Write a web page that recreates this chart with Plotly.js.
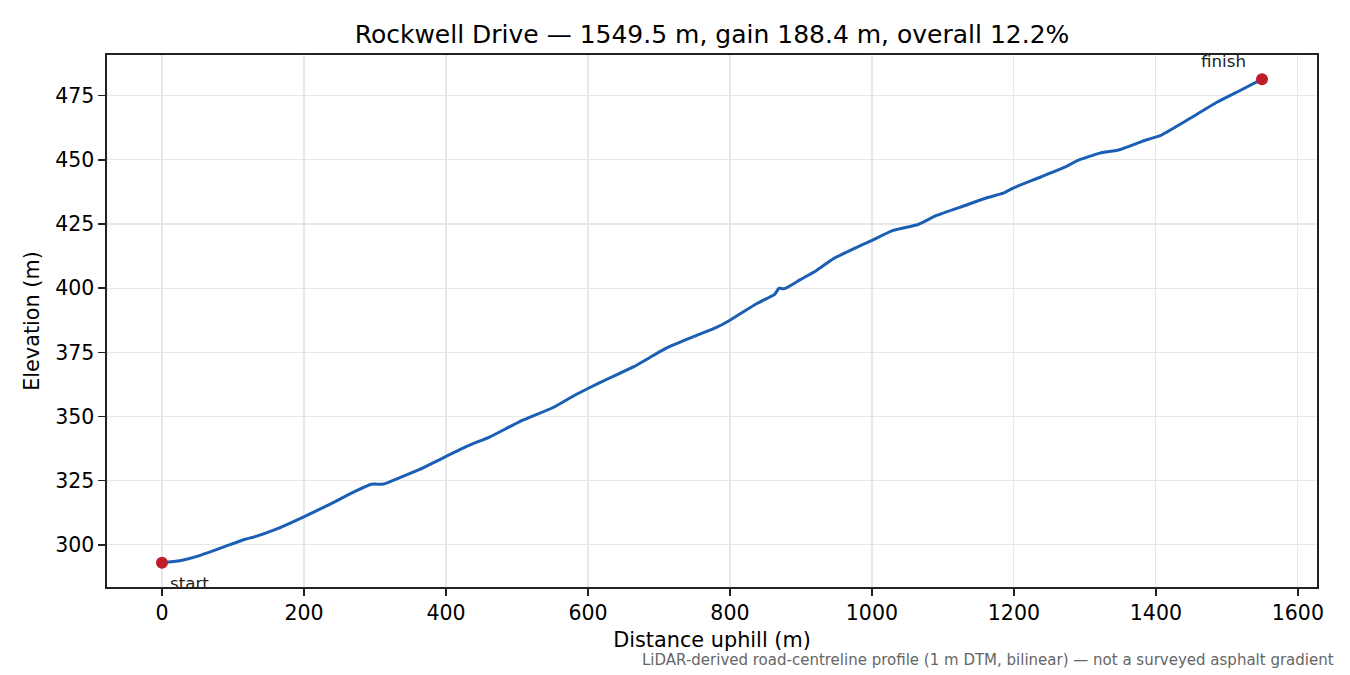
<!DOCTYPE html>
<html>
<head>
<meta charset="utf-8">
<script src="https://cdn.plot.ly/plotly-3.0.1.min.js"></script>
<style>
  html, body { margin: 0; padding: 0; background: #fff; }
  #chart { width: 1350px; height: 675px; }
</style>
</head>
<body>
<div id="chart"></div>
<script>
// profile: distance uphill (m) and elevation (m)
const distance = [0, 25, 49, 86, 117, 129, 161, 199, 237, 274, 295, 312, 335, 363, 399, 434,
  462, 504, 551, 579, 600, 629, 664, 711, 748, 781, 800, 838, 863, 869, 877, 899, 922, 946,
  1000, 1030, 1065, 1091, 1129, 1162, 1185, 1199, 1237, 1274, 1288, 1321, 1349, 1387, 1406,
  1443, 1486, 1518, 1549.5];
const elevation = [293.0, 293.8, 295.5, 299.1, 302.2, 303.0, 306.1, 310.8, 315.9, 321.1, 323.6,
  323.7, 326.2, 329.4, 334.3, 338.9, 342.1, 348.0, 353.5, 357.9, 360.9, 364.8, 369.3, 376.7,
  381.0, 384.7, 387.5, 394.0, 397.6, 399.9, 399.8, 403.3, 406.9, 411.5, 418.6, 422.5, 424.8,
  428.3, 432.0, 435.2, 437.0, 439.0, 443.2, 447.4, 449.5, 452.6, 453.9, 457.8, 459.4, 465.3,
  472.4, 476.9, 481.4];
const endLabels = ['start', 'finish'];
const xTicks = [0, 200, 400, 600, 800, 1000, 1200, 1400, 1600];
const yTicks = [300, 325, 350, 375, 400, 425, 450, 475];

const FONT = 'DejaVu Sans, sans-serif';
const n = distance.length;
const ends = { x: [distance[0], distance[n - 1]], y: [elevation[0], elevation[n - 1]] };

// matplotlib-like 5% padding
const xPad = (distance[n - 1] - distance[0]) * 0.05;
const yPad = (ends.y[1] - ends.y[0]) * 0.05;

const traces = [
  {
    x: distance, y: elevation, mode: 'lines', type: 'scatter',
    line: { color: '#1a5fb4', width: 3, shape: 'spline', smoothing: 0.5 }, hoverinfo: 'skip'
  },
  {
    x: ends.x, y: ends.y, mode: 'markers', type: 'scatter',
    marker: { color: '#c01c28', size: 12 }, cliponaxis: false, hoverinfo: 'skip'
  }
];

const axisCommon = {
  showline: true, mirror: true, linecolor: '#222', linewidth: 1.6,
  ticks: 'outside', ticklen: 7, tickwidth: 1.6, tickcolor: '#222',
  showgrid: true, gridcolor: '#e8e8e8', gridwidth: 1.2,
  zeroline: false,
  tickfont: { family: FONT, size: 20.5, color: '#000' }
};

const layout = {
  width: 1350, height: 675,
  paper_bgcolor: '#fff', plot_bgcolor: '#fff',
  margin: { l: 107, r: 33, t: 55, b: 88 },
  showlegend: false,
  title: {
    text: 'Rockwell Drive — 1549.5 m, gain 188.4 m, overall 12.2%',
    font: { family: FONT, size: 25, color: '#000' },
    x: 0.5, xref: 'paper', y: 0.95, yanchor: 'middle'
  },
  xaxis: Object.assign({}, axisCommon, {
    range: [distance[0] - xPad, distance[n - 1] + xPad],
    tickvals: xTicks, ticktext: xTicks.map(String),
    title: { text: 'Distance uphill (m)', font: { family: FONT, size: 20.8, color: '#000' }, standoff: 8 }
  }),
  yaxis: Object.assign({}, axisCommon, {
    range: [ends.y[0] - yPad, ends.y[1] + yPad],
    tickvals: yTicks, ticktext: yTicks.map(String),
    title: { text: 'Elevation (m)', font: { family: FONT, size: 20.8, color: '#000' }, standoff: 10 }
  }),
  annotations: [
    {
      x: ends.x[0], y: ends.y[0], xref: 'x', yref: 'y', text: endLabels[0], showarrow: false,
      xanchor: 'left', yanchor: 'middle', xshift: 6, yshift: -20,
      font: { family: FONT, size: 16.7, color: '#222' }
    },
    {
      x: ends.x[1], y: ends.y[1], xref: 'x', yref: 'y', text: endLabels[1], showarrow: false,
      xanchor: 'center', yanchor: 'middle', xshift: -39, yshift: 18,
      font: { family: FONT, size: 16.7, color: '#222' }
    },
    {
      x: 0, y: 0, xref: 'paper', yref: 'paper', showarrow: false,
      xanchor: 'right', yanchor: 'middle',
      text: 'LiDAR-derived road-centreline profile (1 m DTM, bilinear) — not a surveyed asphalt gradient',
      font: { family: FONT, size: 15, color: '#666' }
    }
  ]
};
// paper coords for the footnote are relative to the plot area, convert from pixels
(function () {
  const L = 107, R = 1350 - 33, T = 55, B = 675 - 88;
  const fn = layout.annotations[2];
  fn.x = (1336 - L) / (R - L);
  fn.y = (B - 660) / (B - T);
})();

Plotly.newPlot('chart', traces, layout, { staticPlot: true });
</script>
</body>
</html>
